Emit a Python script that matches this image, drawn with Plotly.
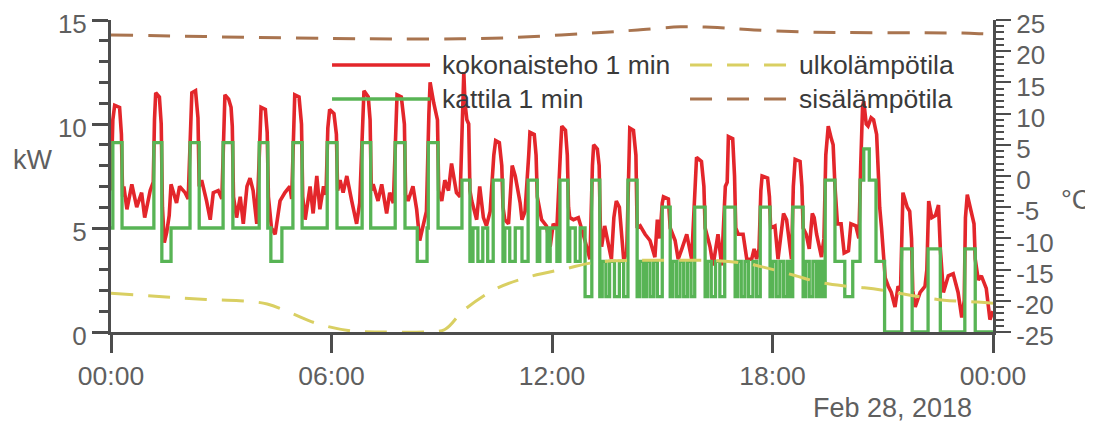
import plotly.graph_objects as go
import pandas as pd

DAY = "2018-02-28"

# ---- boiler power (kattila 1 min), step breakpoints: time, kW ----
green_times = ["00:00","00:03","00:18","01:10","01:23","01:38","02:09","02:24","03:03","03:19",
    "04:02","04:16","04:21","04:39","04:57","05:12","05:53","06:09","06:50","07:04",
    "07:44","08:00","08:20","08:36","08:38","08:54","09:33","09:46","09:51","09:59",
    "10:07","10:15","10:24","10:40","10:43","10:51","11:00","11:11","11:21","11:36",
    "11:40","11:52","11:57","12:08","12:13","12:26","12:29","12:38","12:46","12:54",
    "13:05","13:18","13:22","13:28","13:34","13:42","13:50","13:57","14:04","14:19",
    "14:23","14:29","14:34","14:40","14:46","14:52","15:00","15:13","15:17","15:23",
    "15:29","15:35","15:41","15:47","15:53","16:10","16:14","16:20","16:27","16:34",
    "16:42","16:59","17:03","17:09","17:15","17:21","17:28","17:34","17:40","17:56",
    "18:00","18:06","18:12","18:18","18:24","18:29","18:33","18:50","18:54","19:00",
    "19:06","19:12","19:17","19:22","19:26","19:42","19:58","20:11","20:23","20:29",
    "20:38","20:49","21:03","21:31","21:48","22:14","22:34","23:14","23:31","24:00"]
green_kw = [5.0,9.1,5.0,9.1,3.4,5.0,9.1,5.0,9.1,5.0,
    9.1,5.0,3.4,5.0,9.1,5.0,9.1,5.0,9.1,5.0,
    9.1,5.0,3.4,5.0,9.1,5.0,7.3,3.4,5.0,3.4,
    5.0,3.4,7.3,3.4,5.0,3.4,5.0,3.4,7.3,3.4,
    5.0,3.4,5.0,3.4,7.3,3.4,5.0,3.4,5.0,1.7,
    7.3,1.7,3.4,1.7,3.4,1.7,3.4,1.7,7.3,1.7,
    3.4,1.7,3.4,1.7,3.4,1.7,6.0,1.7,3.4,1.7,
    3.4,1.7,3.4,1.7,6.0,1.7,3.4,1.7,3.4,1.7,
    6.0,1.7,3.4,1.7,3.4,1.7,3.4,1.7,6.0,1.7,
    3.4,1.7,3.4,1.7,3.4,1.7,6.0,1.7,3.4,1.7,
    3.4,1.7,3.4,1.7,7.3,3.4,1.7,3.4,7.3,8.8,
    7.3,3.4,0.0,4.0,0.0,4.0,0.0,4.0,0.0,0.0]

# ---- total power (kokonaisteho 1 min): time, kW ----
red_times = ["00:00","00:03","00:06","00:14","00:17","00:19","00:21","00:26","00:34","00:42",
    "00:50","00:55","01:04","01:09","01:11","01:13","01:19","01:22","01:24","01:27",
    "01:31","01:35","01:38","01:47","01:52","02:01","02:06","02:10","02:12","02:18",
    "02:22","02:24","02:28","02:36","02:42","02:47","02:55","03:01","03:04","03:06",
    "03:12","03:16","03:18","03:20","03:25","03:31","03:36","03:42","03:47","03:52",
    "03:58","04:03","04:05","04:12","04:15","04:17","04:22","04:28","04:36","04:44",
    "04:52","04:55","04:58","05:00","05:07","05:11","05:13","05:17","05:25","05:30",
    "05:36","05:41","05:47","05:51","05:54","05:57","06:04","06:08","06:10","06:14",
    "06:19","06:25","06:33","06:41","06:46","06:51","06:53","07:00","07:03","07:05",
    "07:08","07:16","07:22","07:30","07:35","07:41","07:45","07:47","07:54","07:59",
    "08:01","08:05","08:13","08:19","08:24","08:30","08:35","08:39","08:41","08:47",
    "08:53","08:55","09:00","09:05","09:11","09:16","09:24","09:30","09:34","09:36",
    "09:38","09:41","09:44","09:46","09:49","09:57","10:02","10:08","10:13","10:19",
    "10:25","10:28","10:34","10:38","10:40","10:43","10:49","10:52","10:55","11:00",
    "11:08","11:11","11:16","11:22","11:24","11:31","11:34","11:36","11:38","11:43",
    "11:51","11:57","12:02","12:08","12:14","12:16","12:22","12:25","12:27","12:29",
    "12:35","12:43","12:51","12:57","13:02","13:06","13:08","13:14","13:17","13:19",
    "13:21","13:26","13:32","13:37","13:41","13:45","13:50","13:54","13:57","14:02",
    "14:05","14:07","14:13","14:17","14:19","14:24","14:32","14:40","14:44","14:48",
    "14:52","14:56","15:00","15:02","15:10","15:13","15:21","15:26","15:32","15:40",
    "15:48","15:54","15:56","16:04","16:08","16:10","16:18","16:23","16:31","16:37",
    "16:43","16:46","16:48","16:55","16:58","17:00","17:04","17:12","17:18","17:26",
    "17:30","17:34","17:38","17:41","17:43","17:52","17:55","17:57","18:04","18:09",
    "18:18","18:23","18:31","18:34","18:37","18:45","18:48","18:50","18:55","19:00",
    "19:05","19:08","19:12","19:20","19:24","19:27","19:31","19:36","19:39","19:42",
    "19:46","19:52","19:57","20:04","20:08","20:16","20:21","20:24","20:27","20:29",
    "20:33","20:36","20:41","20:45","20:50","20:53","20:55","20:58","21:02","21:04",
    "21:09","21:14","21:20","21:25","21:29","21:31","21:33","21:40","21:44","21:47",
    "21:49","21:53","22:01","22:09","22:12","22:15","22:20","22:26","22:31","22:34",
    "22:39","22:47","22:55","23:03","23:09","23:13","23:15","23:18","23:24","23:29",
    "23:31","23:36","23:41","23:49","23:55","24:00"]
red_kw = [6.8,10.2,10.9,10.8,9.5,6.5,7.0,5.9,7.1,6.0,
    6.7,5.5,6.8,7.2,10.2,11.5,11.3,10.0,6.0,4.3,
    4.8,5.6,7.1,6.2,7.0,6.7,6.4,10.0,11.5,11.6,
    10.3,7.0,7.3,6.3,5.4,6.7,6.8,6.4,10.5,11.4,
    11.2,10.8,9.9,6.5,5.5,6.5,5.2,7.0,7.4,6.8,
    5.2,10.0,10.8,10.7,9.6,6.5,5.0,4.7,6.3,6.7,
    7.0,6.4,10.5,11.4,11.3,10.0,6.5,5.4,7.0,5.7,
    7.5,5.9,7.0,6.6,9.8,10.7,10.5,9.5,6.8,7.3,
    6.7,7.5,6.3,5.2,6.2,10.5,11.6,11.3,10.2,6.8,
    7.1,6.3,7.1,5.7,6.7,6.2,10.5,11.4,11.3,10.0,
    6.6,6.3,7.0,5.9,4.4,5.1,5.8,10.5,12.0,11.0,
    10.2,6.8,6.3,7.3,6.8,8.1,6.7,6.5,10.0,12.5,
    11.0,10.2,10.0,6.8,6.3,5.4,7.0,5.5,5.1,5.8,
    8.5,9.2,9.1,8.0,6.0,5.4,5.2,6.5,8.0,7.5,
    6.2,5.4,5.8,8.5,9.6,9.5,8.5,6.5,6.2,5.4,
    5.1,4.1,5.2,5.0,8.8,9.9,9.7,8.5,6.0,5.5,
    5.4,5.5,4.7,4.1,3.5,8.0,9.0,8.8,8.0,5.0,
    4.1,5.1,4.3,3.5,5.5,6.3,6.0,4.5,3.5,3.8,
    8.5,9.8,9.7,8.5,5.0,5.1,4.7,4.4,4.0,3.6,
    5.4,4.5,6.2,6.5,6.4,5.0,4.4,3.5,4.0,4.7,
    3.5,7.0,8.4,8.2,7.0,5.0,4.1,3.2,4.7,3.2,
    7.0,7.2,9.4,9.3,7.5,5.0,4.7,4.7,3.5,3.5,
    4.0,3.5,4.0,6.8,7.5,7.4,6.5,5.0,5.1,3.5,
    5.7,5.4,3.5,7.0,8.3,8.2,7.0,5.0,4.7,4.0,
    5.7,5.5,4.7,3.6,4.5,8.5,9.9,9.3,9.0,7.0,
    5.2,5.2,3.8,3.9,5.2,5.1,4.5,8.0,10.8,11.1,
    10.0,9.9,10.3,10.2,9.5,7.5,6.0,5.0,3.5,2.6,
    2.2,1.9,1.2,2.2,2.0,5.0,6.7,6.0,5.8,4.5,
    2.0,1.2,1.9,2.2,3.0,6.3,5.5,5.6,6.1,4.0,
    1.9,2.7,2.8,1.9,0.7,1.5,5.5,6.6,5.8,5.2,
    3.5,2.5,2.7,2.1,0.6,1.0]

# ---- outdoor temperature (ulkolämpötila), deg C ----
outdoor_times = ["00:00","01:30","02:35","03:30","04:15","04:55","05:35","06:30","07:25","08:30",
    "09:05","09:35","10:30","11:25","12:25","13:00","13:40","15:00","16:30","17:15",
    "17:45","18:35","19:15","19:55","20:30","21:00","21:45","22:40","23:35","24:00"]
outdoor_c = [-18.8,-19.4,-19.8,-20.0,-20.5,-22.0,-23.6,-24.8,-25.0,-25.0,
    -24.6,-21.6,-18.0,-16.1,-14.8,-14.0,-13.6,-13.5,-13.6,-14.0,
    -14.6,-15.9,-17.0,-17.6,-17.9,-18.3,-19.1,-19.9,-20.2,-20.4]

# ---- indoor temperature (sisälämpötila), deg C ----
indoor_times = ["00:00","02:00","04:00","06:00","07:40","09:30","11:00","12:15","13:20","14:20",
    "15:30","16:30","17:30","18:45","20:00","22:00","23:10","23:40","24:00"]
indoor_c = [22.6,22.4,22.2,22.05,21.95,22.0,22.2,22.6,23.0,23.4,
    23.9,23.8,23.4,23.1,23.0,22.95,22.9,22.8,22.7]

# ---- axes ticks ----
x_tick_times = ["00:00","06:00","12:00","18:00","24:00"]
x_tick_labels = ["00:00","06:00","12:00","18:00","00:00"]
left_ticks = [0, 5, 10, 15]
right_ticks = [-25, -20, -15, -10, -5, 0, 5, 10, 15, 20, 25]
right_labels = ["-25", "-20", "-15", "-10", "-5", "0", "5", "10", "15", "20", "25"]

series_names = ["kokonaisteho 1 min", "kattila 1 min", "ulkolämpötila", "sisälämpötila"]

RED = "#e3262b"
GREEN = "#58b455"
YELLOW = "#d9cf62"
BROWN = "#a9744f"
AXIS = "#4d4d4d"
TXT = "#5f5f5f"
FONT = "Liberation Sans, Arial, sans-serif"
DASH = "22px,15px"


def to_dt(hhmm):
    h, m = hhmm.split(":")
    return pd.Timestamp(DAY) + pd.Timedelta(minutes=int(h) * 60 + int(m))


fig = go.Figure()
fig.add_trace(go.Scatter(x=[to_dt(t) for t in red_times], y=red_kw, mode="lines",
                         name=series_names[0], line=dict(color=RED, width=3.6),
                         showlegend=False))
fig.add_trace(go.Scatter(x=[to_dt(t) for t in green_times], y=green_kw, mode="lines",
                         name=series_names[1], line=dict(color=GREEN, width=3.3, shape="hv"),
                         showlegend=False))
fig.add_trace(go.Scatter(x=[to_dt(t) for t in outdoor_times], y=outdoor_c, mode="lines",
                         name=series_names[2], yaxis="y2",
                         line=dict(color=YELLOW, width=3, dash=DASH, shape="spline"),
                         showlegend=False))
fig.add_trace(go.Scatter(x=[to_dt(t) for t in indoor_times], y=indoor_c, mode="lines",
                         name=series_names[3], yaxis="y2",
                         line=dict(color=BROWN, width=3, dash=DASH, shape="spline"),
                         showlegend=False))

# manual legend (long line samples, transparent background)
col_x = [(0.2506, 0.3617, 0.3730), (0.6565, 0.7721, 0.7778)]
row_y = [0.8558, 0.7468]
legend_items = [
    (series_names[0], RED, "solid", 0, 0),
    (series_names[1], GREEN, "solid", 0, 1),
    (series_names[2], YELLOW, DASH, 1, 0),
    (series_names[3], BROWN, DASH, 1, 1),
]
shapes = []
annotations = []
for name, color, dash, col, row in legend_items:
    x0, x1, xt = col_x[col]
    shapes.append(dict(type="line", xref="paper", yref="paper", x0=x0, x1=x1,
                       y0=row_y[row], y1=row_y[row],
                       line=dict(color=color, width=3.6 if dash == "solid" else 3, dash=dash)))
    annotations.append(dict(text=name, xref="paper", yref="paper", x=xt, y=row_y[row],
                            xanchor="left", yanchor="middle", showarrow=False,
                            font=dict(family=FONT, size=26.5, color="#3a3a3a")))

annotations.append(dict(text="kW", xref="paper", yref="paper", x=-0.0884, y=0.5513,
                        xanchor="center", yanchor="middle", showarrow=False,
                        font=dict(family=FONT, size=27, color=TXT)))
annotations.append(dict(text="°C", xref="paper", yref="paper", x=1.0941, y=0.4231,
                        xanchor="center", yanchor="middle", showarrow=False,
                        font=dict(family=FONT, size=27, color=TXT)))
annotations.append(dict(text="Feb 28, 2018", xref="paper", yref="paper", x=0.8866, y=-0.2436,
                        xanchor="center", yanchor="middle", showarrow=False,
                        font=dict(family=FONT, size=27, color=TXT)))

# the page places the figure 8 px from the top-left corner
fig.update_layout(
    width=1085, height=416,
    margin=dict(l=103, r=100, t=12, b=92, autoexpand=False),
    plot_bgcolor="white", paper_bgcolor="white",
    font=dict(family=FONT, size=26, color=TXT),
    showlegend=False,
    shapes=shapes,
    annotations=annotations,
    xaxis=dict(
        range=[to_dt("00:00"), to_dt("24:00")], automargin=False,
        tickvals=[to_dt(t) for t in x_tick_times], ticktext=x_tick_labels,
        showgrid=False, zeroline=False, ticklabeloverflow="allow",
        showline=True, linecolor=AXIS, linewidth=3,
        ticks="outside", ticklen=18, tickwidth=3, tickcolor=AXIS,
        tickfont=dict(family=FONT, size=26.5, color=TXT),
    ),
    yaxis=dict(
        range=[0, 15], tickvals=left_ticks, automargin=False,
        showgrid=False, zeroline=False, ticklabeloverflow="allow", ticklabelshift=4,
        showline=True, linecolor=AXIS, linewidth=3,
        ticks="outside", ticklen=16, tickwidth=2.5, tickcolor=AXIS,
        minor=dict(dtick=1, ticks="outside", ticklen=9, tickwidth=2.5, tickcolor=AXIS, showgrid=False),
        tickfont=dict(family=FONT, size=26, color=TXT),
    ),
    yaxis2=dict(
        range=[-25, 25], tickvals=right_ticks, ticktext=right_labels, automargin=False,
        overlaying="y", side="right", anchor="x",
        showgrid=False, zeroline=False, ticklabeloverflow="allow", ticklabelshift=4,
        showline=True, linecolor=AXIS, linewidth=3,
        ticks="outside", ticklen=15, tickwidth=2, tickcolor=AXIS,
        minor=dict(dtick=1, ticks="outside", ticklen=8, tickwidth=1.5, tickcolor=AXIS, showgrid=False),
        tickfont=dict(family=FONT, size=26, color=TXT),
    ),
)

fig.write_html("out.html")
